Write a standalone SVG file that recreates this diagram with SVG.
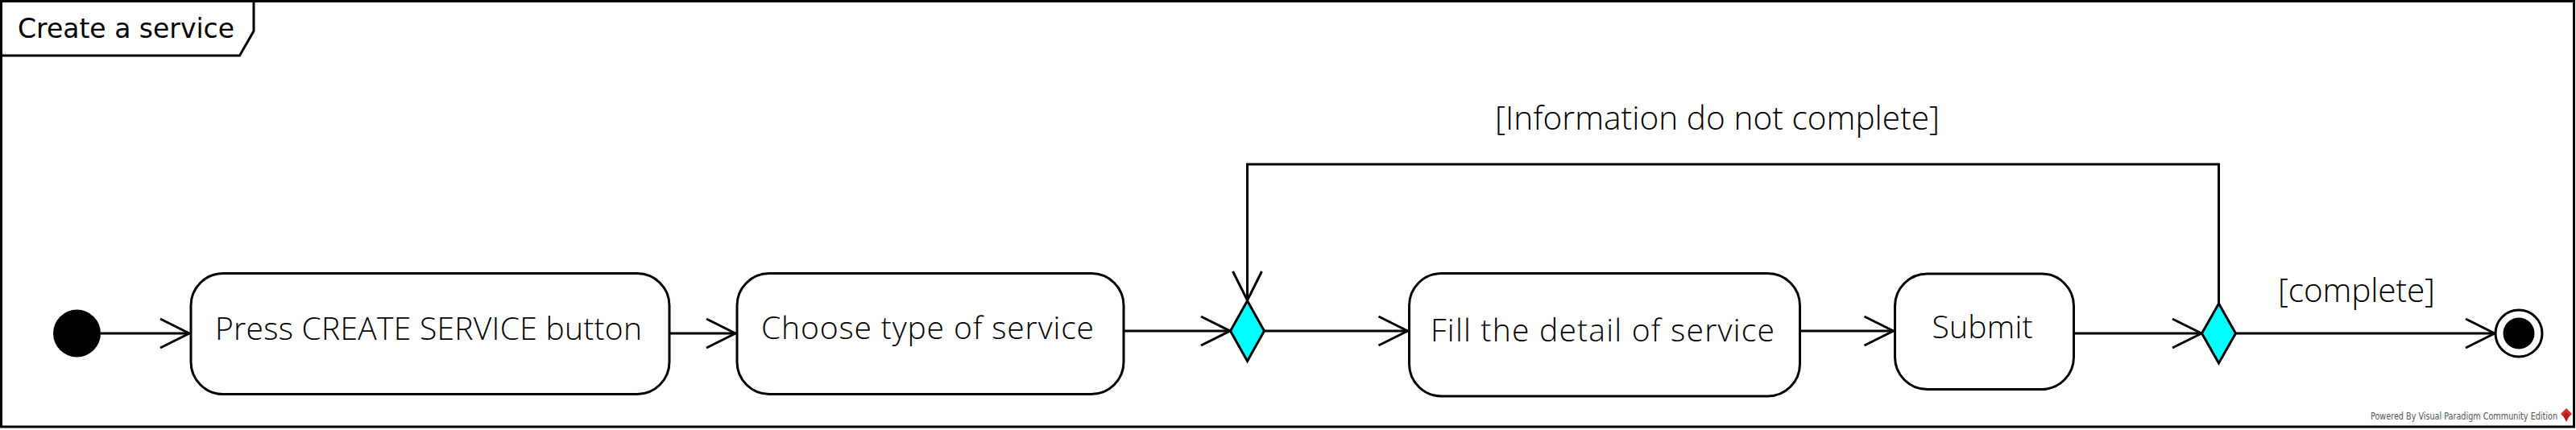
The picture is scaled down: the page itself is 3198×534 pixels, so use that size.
<svg xmlns="http://www.w3.org/2000/svg" width="3198" height="534" viewBox="0 0 3198 534">
  <style>
    .frame { fill: #ffffff; stroke: #000000; stroke-width: 3; }
    .act { fill: #ffffff; stroke: #000000; stroke-width: 3; }
    .dec { fill: #00ffff; stroke: #000000; stroke-width: 3; }
    .lbl { font-family: "Open Sans", "Noto Sans", sans-serif; font-weight: 300; font-size: 39px; fill: #000000; text-anchor: middle; }
    .guard { font-family: "Open Sans", "Noto Sans", sans-serif; font-weight: 300; font-size: 40.5px; fill: #000000; text-anchor: middle; }
    .title { font-family: "DejaVu Sans", "Liberation Sans", sans-serif; font-size: 33px; fill: #000000; }
    .wm { font-family: "DejaVu Sans Condensed", "DejaVu Sans", sans-serif; font-size: 12px; fill: #555555; }
    .conn { fill: none; stroke: #000000; stroke-width: 3; }
  </style>
  <defs>
    <marker id="arr" markerUnits="userSpaceOnUse" markerWidth="44" markerHeight="44" viewBox="-40 -22 44 44" refX="0" refY="0" orient="auto" overflow="visible">
      <path d="M-36,-18 L0,0 L-36,18" fill="none" stroke="#000000" stroke-width="3"/>
    </marker>
  </defs>

  <g id="frame">
    <rect class="frame" x="1.5" y="1.5" width="3194" height="528.5"/>
    <path d="M1.5,69 L297.5,69 L315,38.5 L315,1.5" fill="none" stroke="#000000" stroke-width="3"/>
    <text class="title" x="22" y="47">Create a service</text>
  </g>

  <g id="connectors">
    <line class="conn" x1="125" y1="414" x2="235" y2="414" marker-end="url(#arr)"/>
    <line class="conn" x1="831" y1="414" x2="913" y2="414" marker-end="url(#arr)"/>
    <line class="conn" x1="1395" y1="411" x2="1527" y2="411" marker-end="url(#arr)"/>
    <line class="conn" x1="1569.5" y1="411" x2="1747.5" y2="411" marker-end="url(#arr)"/>
    <line class="conn" x1="2234" y1="411" x2="2350.5" y2="411" marker-end="url(#arr)"/>
    <line class="conn" x1="2574" y1="414" x2="2733" y2="414" marker-end="url(#arr)"/>
    <line class="conn" x1="2775.5" y1="414" x2="3097" y2="414" marker-end="url(#arr)"/>
    <polyline class="conn" points="2754.5,377 2754.5,204 1548.5,204 1548.5,373" marker-end="url(#arr)"/>
    <text class="guard" x="2132" y="161" textLength="552">[Information do not complete]</text>
    <text class="guard" x="2925.5" y="375" textLength="195">[complete]</text>
  </g>

  <g id="initial">
    <circle cx="95.5" cy="414" r="29.5" fill="#000000"/>
  </g>

  <g id="press-create">
    <rect class="act" x="237" y="339.5" width="594" height="150" rx="40" ry="40"/>
    <text class="lbl" x="532" y="422" textLength="530">Press CREATE SERVICE button</text>
  </g>

  <g id="choose-type">
    <rect class="act" x="915" y="339.5" width="480" height="150" rx="40" ry="40"/>
    <text class="lbl" x="1151.5" y="421" textLength="413">Choose type of service</text>
  </g>

  <g id="merge">
    <polygon class="dec" points="1548.5,373.5 1569.5,411 1548.5,448.5 1527.5,411"/>
  </g>

  <g id="fill-detail">
    <rect class="act" x="1749.5" y="339.5" width="485" height="152.5" rx="40" ry="40"/>
    <text class="lbl" x="1989.5" y="424" textLength="427">Fill the detail of service</text>
  </g>

  <g id="submit">
    <rect class="act" x="2352.5" y="340" width="222" height="143.5" rx="40" ry="40"/>
    <text class="lbl" x="2461" y="420" textLength="125">Submit</text>
  </g>

  <g id="decision">
    <polygon class="dec" points="2754.5,377 2775.5,414 2754.5,451 2733.5,414"/>
  </g>

  <g id="final">
    <circle cx="3127" cy="414" r="29" fill="#ffffff" stroke="#000000" stroke-width="3"/>
    <circle cx="3127" cy="414" r="19.5" fill="#000000"/>
  </g>

  <g id="watermark">
    <text class="wm" x="2943" y="521" textLength="232" lengthAdjust="spacingAndGlyphs">Powered By Visual Paradigm Community Edition</text>
    <polygon points="3186,507 3193,514 3186,521 3179,514" fill="#d42a2a"/>
    <polygon points="3186,512 3190,516 3186,524 3182,516" fill="#b01e1e"/>
  </g>
</svg>
